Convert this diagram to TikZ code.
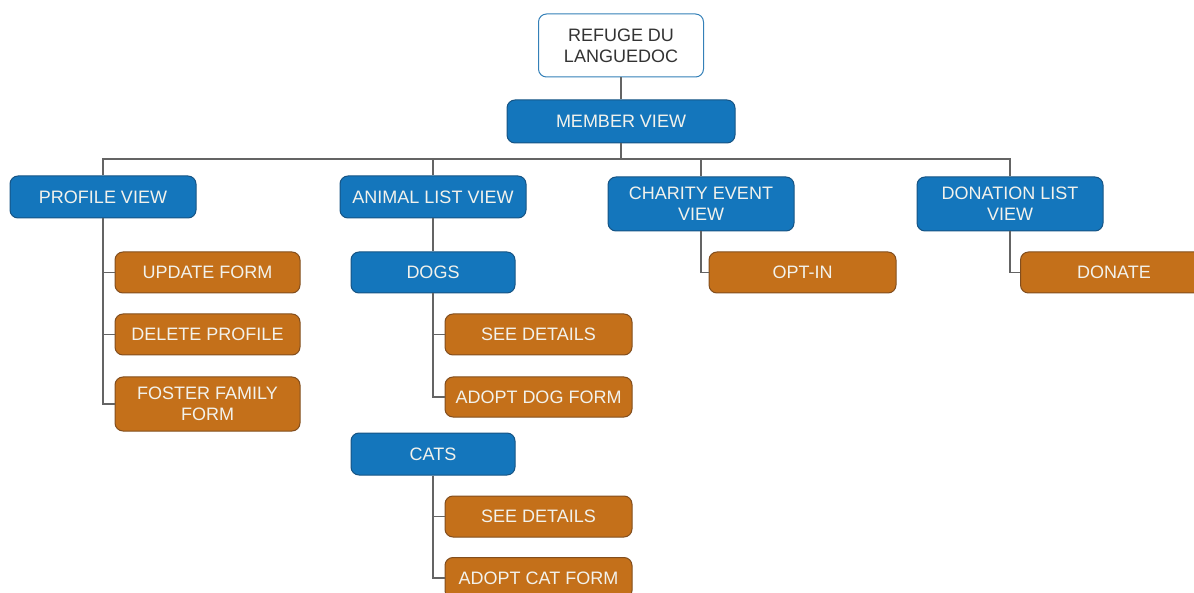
\documentclass[tikz,border=0pt]{standalone}
\usepackage{fontspec}
\setmainfont{Liberation Sans}
\begin{document}
\definecolor{viewblue}{RGB}{20,118,188}
\definecolor{viewedge}{RGB}{22,84,132}
\definecolor{actorange}{RGB}{196,112,26}
\definecolor{actedge}{RGB}{130,78,30}
\definecolor{boxtext}{RGB}{242,242,236}
\definecolor{wire}{RGB}{100,100,100}
\definecolor{rootedge}{RGB}{52,128,184}
\begin{tikzpicture}[x=1pt,y=-1pt,
  box/.style={rounded corners=8pt, inner sep=0pt, align=center,
    font=\fontsize{18}{21}\selectfont, line width=1pt},
  rootbox/.style={box, draw=rootedge, fill=white, text=black!80},
  viewbox/.style={box, draw=viewedge, fill=viewblue, text=boxtext},
  actbox/.style={box, draw=actedge, fill=actorange, text=boxtext},
  wirel/.style={draw=wire, line width=1.3pt}]
\useasboundingbox (0,0) rectangle (1194,593);
\clip (0,0) rectangle (1194,593);

% root and member view
\node[rootbox, minimum width=165pt, minimum height=63pt] (ref) at (621,45.5) {REFUGE DU\\LANGUEDOC};
\node[viewbox, minimum width=228pt, minimum height=43pt] (mem) at (621,121.5) {MEMBER VIEW};

% main views
\node[viewbox, minimum width=186pt, minimum height=42pt] (prof) at (103,197) {PROFILE VIEW};
\node[viewbox, minimum width=186pt, minimum height=42pt] (anim) at (433,197) {ANIMAL LIST VIEW};
\node[viewbox, minimum width=186pt, minimum height=54pt] (char) at (701,204) {CHARITY EVENT\\VIEW};
\node[viewbox, minimum width=186pt, minimum height=54pt] (don) at (1010,204) {DONATION LIST\\VIEW};

% profile actions
\node[actbox, minimum width=185pt, minimum height=41pt] (upd) at (207.5,272.5) {UPDATE FORM};
\node[actbox, minimum width=185pt, minimum height=41pt] (del) at (207.5,334.5) {DELETE PROFILE};
\node[actbox, minimum width=185pt, minimum height=54pt] (fos) at (207.5,404) {FOSTER FAMILY\\FORM};

% animal lists
\node[viewbox, minimum width=164pt, minimum height=41pt] (dogs) at (433,272.5) {DOGS};
\node[actbox, minimum width=187pt, minimum height=41pt] (dsee) at (538.5,334.5) {SEE DETAILS};
\node[actbox, minimum width=187pt, minimum height=40pt] (dadopt) at (538.5,397) {ADOPT DOG FORM};
\node[viewbox, minimum width=164pt, minimum height=42pt] (cats) at (433,454) {CATS};
\node[actbox, minimum width=187pt, minimum height=41pt] (csee) at (538.5,516.5) {SEE DETAILS};
\node[actbox, minimum width=187pt, minimum height=41pt] (cadopt) at (538.5,578) {ADOPT CAT FORM};

% event and donation actions
\node[actbox, minimum width=187pt, minimum height=41pt] (opt) at (802.5,272.5) {OPT-IN};
\node[actbox, minimum width=187pt, minimum height=41pt] (donate) at (1114,272.5) {DONATE};

% connectors
\coordinate (bus) at (0,159);
\draw[wirel] (ref.south) -- (mem.north);
\draw[wirel] (mem.south) -- (mem.south |- bus);
\draw[wirel] (prof.north) -- (prof.north |- bus) -- (don.north |- bus) -- (don.north);
\draw[wirel] (anim.north) -- (anim.north |- bus);
\draw[wirel] (char.north) -- (char.north |- bus);

\draw[wirel] (prof.south) |- (upd.west);
\draw[wirel] (prof.south) |- (del.west);
\draw[wirel] (prof.south) |- (fos.west);

\draw[wirel] (anim.south) -- (dogs.north);
\draw[wirel] (dogs.south) |- (dsee.west);
\draw[wirel] (dogs.south) |- (dadopt.west);
\draw[wirel] (cats.south) |- (csee.west);
\draw[wirel] (cats.south) |- (cadopt.west);

\draw[wirel] (char.south) |- (opt.west);
\draw[wirel] (don.south) |- (donate.west);
\end{tikzpicture}
\end{document}
